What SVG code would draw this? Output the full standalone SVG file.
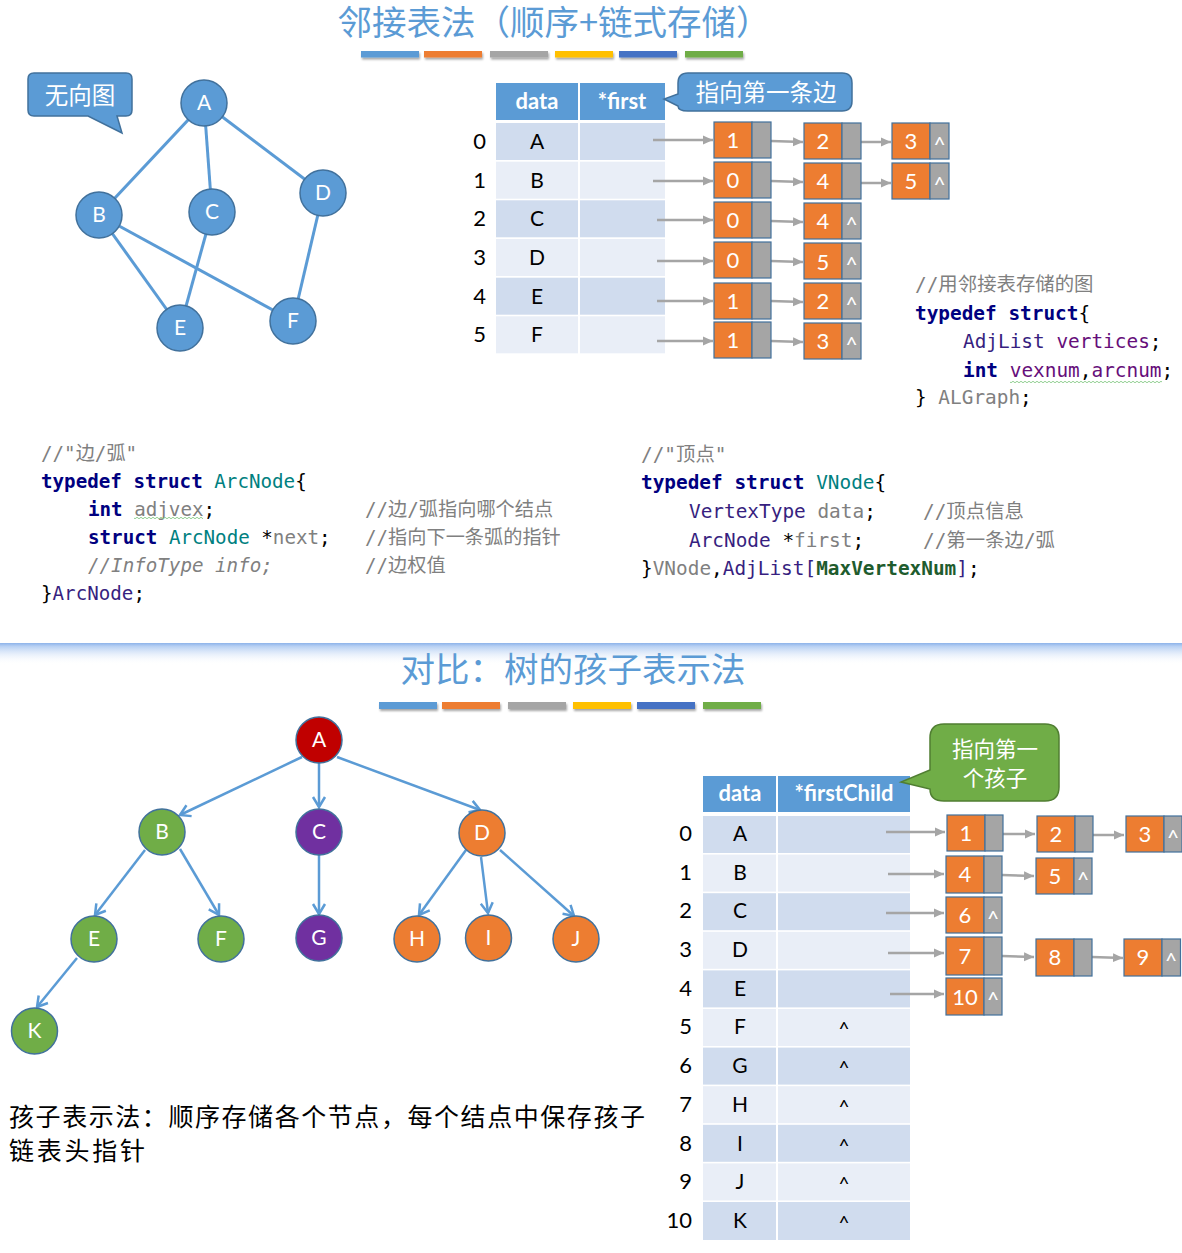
<svg xmlns="http://www.w3.org/2000/svg" width="1182" height="1253" viewBox="0 0 1182 1253">
<defs>
<style>
.title{font-family:"Noto Sans CJK SC",sans-serif;font-size:34.5px;fill:#5b9bd5;text-anchor:middle}
.gedge{stroke:#5b9bd5;stroke-width:3;fill:none}
.gnode{fill:#5b9bd5;stroke:#41719c;stroke-width:1.5}
.nlbl{font-family:Lato,"Liberation Sans",sans-serif;font-size:21px;fill:#fff;text-anchor:middle}
.call{font-family:"Noto Sans CJK SC",sans-serif;fill:#fff;text-anchor:middle}
.hdr{fill:#5b9bd5}
.hdt{font-family:Lato,"Liberation Sans",sans-serif;font-weight:bold;font-size:22px;fill:#fff;text-anchor:middle}
.rd{fill:#d0dcee}
.rl{fill:#e9eef7}
.ct{font-family:Lato,"Liberation Sans",sans-serif;font-size:21px;fill:#000;text-anchor:middle}
.idx{font-family:Lato,"Liberation Sans",sans-serif;font-size:22px;fill:#000;text-anchor:end}
.ob{fill:#ed7d31;stroke:#41719c;stroke-width:1.2}
.gb{fill:#a5a5a5;stroke:#41719c;stroke-width:1.2}
.ov{font-family:Lato,"Liberation Sans",sans-serif;font-size:22px;fill:#fff;text-anchor:middle}
.cr{font-family:Lato,"Liberation Sans",sans-serif;font-size:21px;fill:#fff;text-anchor:middle}
.gconn{stroke:#a5a5a5;stroke-width:2.5;fill:none;marker-end:url(#ga)}
.tconn{stroke:#5b9bd5;stroke-width:2.5;fill:none;marker-end:url(#ba)}
.code{font-family:"DejaVu Sans Mono","Noto Sans CJK SC",monospace;white-space:pre;fill:#000}
.cm{fill:#808080}
.kw{fill:#000080;font-weight:bold}
.tl{fill:#008080}
.ty{fill:#371f80}
.gv{fill:#808080}
.pv{fill:#660e7a}
.mx{fill:#1f5c2e;font-weight:bold}
.bar{filter:url(#sh)}
</style>
<marker id="ga" markerUnits="userSpaceOnUse" markerWidth="12" markerHeight="10" refX="10" refY="5" orient="auto"><path d="M0,0.5 L10,5 L0,9.5 z" fill="#a5a5a5"/></marker>
<marker id="ba" markerUnits="userSpaceOnUse" markerWidth="14" markerHeight="14" refX="10" refY="7" orient="auto" overflow="visible"><path d="M0,1 L10,7 L0,13" fill="none" stroke="#5b9bd5" stroke-width="2.5"/></marker>
<linearGradient id="dv" x1="0" y1="0" x2="0" y2="1"><stop offset="0" stop-color="#8db3ea"/><stop offset="0.15" stop-color="#b7d0f3"/><stop offset="1" stop-color="#ffffff" stop-opacity="0"/></linearGradient>
<filter id="sh" x="-10%" y="-50%" width="120%" height="250%"><feDropShadow dx="1" dy="2" stdDeviation="1" flood-color="#000" flood-opacity="0.35"/></filter>
<pattern id="wavy" patternUnits="userSpaceOnUse" x="0" y="0" width="4" height="4"><path d="M0,2 Q1,0.5 2,2 T4,2" fill="none" stroke="#86c986" stroke-width="0.9"/></pattern>
</defs>
<rect width="1182" height="1253" fill="#fff"/>

<!-- Titles -->
<text class="title" x="554" y="35">邻接表法（顺序+链式存储）</text>
<g id="bars-top">
<rect class="bar" x="361" y="51" width="58" height="6.5" fill="#5b9bd5"/>
<rect class="bar" x="424" y="51" width="58" height="6.5" fill="#ed7d31"/>
<rect class="bar" x="490" y="51" width="58" height="6.5" fill="#a5a5a5"/>
<rect class="bar" x="555" y="51" width="58" height="6.5" fill="#ffc000"/>
<rect class="bar" x="619" y="51" width="58" height="6.5" fill="#4472c4"/>
<rect class="bar" x="685" y="51" width="58" height="6.5" fill="#70ad47"/>
</g>

<!-- Undirected graph -->
<g id="graph-edges">
<line class="gedge" x1="204" y1="103" x2="99" y2="215"/>
<line class="gedge" x1="204" y1="103" x2="212" y2="212"/>
<line class="gedge" x1="204" y1="103" x2="323" y2="193"/>
<line class="gedge" x1="99" y1="215" x2="180" y2="328"/>
<line class="gedge" x1="99" y1="215" x2="293" y2="321"/>
<line class="gedge" x1="212" y1="212" x2="180" y2="328"/>
<line class="gedge" x1="323" y1="193" x2="293" y2="321"/>
</g>
<g id="gA"><circle class="gnode" cx="204" cy="103" r="23"/><text class="nlbl" x="204" y="110">A</text></g>
<g id="gB"><circle class="gnode" cx="99" cy="215" r="23"/><text class="nlbl" x="99" y="222">B</text></g>
<g id="gC"><circle class="gnode" cx="212" cy="212" r="23"/><text class="nlbl" x="212" y="219">C</text></g>
<g id="gD"><circle class="gnode" cx="323" cy="193" r="23"/><text class="nlbl" x="323" y="200">D</text></g>
<g id="gE"><circle class="gnode" cx="180" cy="328" r="23"/><text class="nlbl" x="180" y="335">E</text></g>
<g id="gF"><circle class="gnode" cx="293" cy="321" r="23"/><text class="nlbl" x="293" y="328">F</text></g>

<g id="callout-undirected">
<path d="M34,73 H126 Q132,73 132,79 V110 Q132,116 126,116 H117 L122,133 L88,116 H34 Q28,116 28,110 V79 Q28,73 34,73 Z" fill="#5b9bd5" stroke="#41719c" stroke-width="1.5"/>
<text class="call" x="80" y="104" font-size="23.5">无向图</text>
</g>

<!-- Top table -->
<g id="adj-table">
<rect class="hdr" x="496" y="83" width="82" height="37"/>
<rect class="hdr" x="580" y="83" width="85" height="37"/>
<text class="hdt" x="537" y="109">data</text>
<text class="hdt" x="622" y="109">*first</text>
<rect class="rd" x="496" y="123" width="82" height="37"/><rect class="rd" x="580" y="123" width="85" height="37"/>
<rect class="rl" x="496" y="161.7" width="82" height="37"/><rect class="rl" x="580" y="161.7" width="85" height="37"/>
<rect class="rd" x="496" y="200.3" width="82" height="37"/><rect class="rd" x="580" y="200.3" width="85" height="37"/>
<rect class="rl" x="496" y="239" width="82" height="37"/><rect class="rl" x="580" y="239" width="85" height="37"/>
<rect class="rd" x="496" y="277.7" width="82" height="37"/><rect class="rd" x="580" y="277.7" width="85" height="37"/>
<rect class="rl" x="496" y="316.3" width="82" height="37"/><rect class="rl" x="580" y="316.3" width="85" height="37"/>
<text class="idx" x="486" y="149">0</text><text class="ct" x="537" y="149">A</text>
<text class="idx" x="486" y="188">1</text><text class="ct" x="537" y="188">B</text>
<text class="idx" x="486" y="226">2</text><text class="ct" x="537" y="226">C</text>
<text class="idx" x="486" y="265">3</text><text class="ct" x="537" y="265">D</text>
<text class="idx" x="486" y="304">4</text><text class="ct" x="537" y="304">E</text>
<text class="idx" x="486" y="342">5</text><text class="ct" x="537" y="342">F</text>
</g>

<g id="callout-first">
<path d="M688,73 H842 Q852,73 852,83 V101 Q852,111 842,111 H688 Q678,111 678,106 L664,99 L678,94 V83 Q678,73 688,73 Z" fill="#5b9bd5" stroke="#41719c" stroke-width="1.5"/>
<text class="call" x="766" y="101" font-size="23.5">指向第一条边</text>
</g>

<!-- Bottom table -->
<g id="child-table">
<rect class="hdr" x="703" y="776" width="73" height="36"/>
<rect class="hdr" x="778" y="776" width="132" height="36"/>
<text class="hdt" x="740" y="801">data</text>
<text class="hdt" x="844" y="801">*firstChild</text>
<rect class="rd" x="703" y="816" width="73" height="37"/><rect class="rd" x="778" y="816" width="132" height="37"/>
<rect class="rl" x="703" y="854.6" width="73" height="37"/><rect class="rl" x="778" y="854.6" width="132" height="37"/>
<rect class="rd" x="703" y="893.2" width="73" height="37"/><rect class="rd" x="778" y="893.2" width="132" height="37"/>
<rect class="rl" x="703" y="931.8" width="73" height="37"/><rect class="rl" x="778" y="931.8" width="132" height="37"/>
<rect class="rd" x="703" y="970.4" width="73" height="37"/><rect class="rd" x="778" y="970.4" width="132" height="37"/>
<rect class="rl" x="703" y="1009" width="73" height="37"/><rect class="rl" x="778" y="1009" width="132" height="37"/>
<rect class="rd" x="703" y="1047.6" width="73" height="37"/><rect class="rd" x="778" y="1047.6" width="132" height="37"/>
<rect class="rl" x="703" y="1086.2" width="73" height="37"/><rect class="rl" x="778" y="1086.2" width="132" height="37"/>
<rect class="rd" x="703" y="1124.8" width="73" height="37"/><rect class="rd" x="778" y="1124.8" width="132" height="37"/>
<rect class="rl" x="703" y="1163.4" width="73" height="37"/><rect class="rl" x="778" y="1163.4" width="132" height="37"/>
<rect class="rd" x="703" y="1202" width="73" height="38"/><rect class="rd" x="778" y="1202" width="132" height="38"/>
<text class="idx" x="692" y="841">0</text><text class="ct" x="740" y="841">A</text>
<text class="idx" x="692" y="880">1</text><text class="ct" x="740" y="880">B</text>
<text class="idx" x="692" y="918">2</text><text class="ct" x="740" y="918">C</text>
<text class="idx" x="692" y="957">3</text><text class="ct" x="740" y="957">D</text>
<text class="idx" x="692" y="996">4</text><text class="ct" x="740" y="996">E</text>
<text class="idx" x="692" y="1034">5</text><text class="ct" x="740" y="1034">F</text>
<text class="idx" x="692" y="1073">6</text><text class="ct" x="740" y="1073">G</text>
<text class="idx" x="692" y="1112">7</text><text class="ct" x="740" y="1112">H</text>
<text class="idx" x="692" y="1151">8</text><text class="ct" x="740" y="1151">I</text>
<text class="idx" x="692" y="1189">9</text><text class="ct" x="740" y="1189">J</text>
<text class="idx" x="692" y="1228">10</text><text class="ct" x="740" y="1228">K</text>
<g font-family="Lato, Liberation Sans, sans-serif" font-size="19" text-anchor="middle" fill="#000">
<text x="844" y="1036">^</text><text x="844" y="1075">^</text><text x="844" y="1114">^</text><text x="844" y="1153">^</text><text x="844" y="1191">^</text><text x="844" y="1230">^</text>
</g>
</g>

<g id="callout-child">
<path d="M944,724 H1045 Q1059,724 1059,738 V787 Q1059,801 1045,801 H944 Q930,801 930,789 L901,782 L930,770 V738 Q930,724 944,724 Z" fill="#70ad47" stroke="#507e32" stroke-width="1.5"/>
<text class="call" x="995" y="757" font-size="21.5">指向第一</text>
<text class="call" x="995" y="786" font-size="21.5">个孩子</text>
</g>

<!-- Connectors -->
<g id="connectors">
<line class="gconn" x1="653" y1="140" x2="713" y2="140"/>
<line class="gconn" x1="653" y1="181" x2="713" y2="181"/>
<line class="gconn" x1="657" y1="220" x2="713" y2="220"/>
<line class="gconn" x1="657" y1="261" x2="713" y2="261"/>
<line class="gconn" x1="657" y1="301" x2="713" y2="301"/>
<line class="gconn" x1="657" y1="341" x2="713" y2="341"/>
<line class="gconn" x1="771" y1="141" x2="803" y2="142"/>
<line class="gconn" x1="771" y1="181" x2="803" y2="182"/>
<line class="gconn" x1="771" y1="221" x2="803" y2="222"/>
<line class="gconn" x1="771" y1="261" x2="803" y2="262"/>
<line class="gconn" x1="771" y1="301" x2="803" y2="302"/>
<line class="gconn" x1="771" y1="341" x2="803" y2="342"/>
<line class="gconn" x1="861" y1="142" x2="891" y2="142"/>
<line class="gconn" x1="861" y1="183" x2="891" y2="183"/>

<line class="gconn" x1="886" y1="832" x2="945" y2="832"/>
<line class="gconn" x1="888" y1="874" x2="944" y2="874"/>
<line class="gconn" x1="886" y1="913" x2="944" y2="913"/>
<line class="gconn" x1="888" y1="953" x2="944" y2="953"/>
<line class="gconn" x1="890" y1="994" x2="944" y2="994"/>
<line class="gconn" x1="1003" y1="834" x2="1035" y2="834"/>
<line class="gconn" x1="1093" y1="835" x2="1124" y2="835"/>
<line class="gconn" x1="1002" y1="875" x2="1034" y2="876"/>
<line class="gconn" x1="1002" y1="956" x2="1034" y2="957"/>
<line class="gconn" x1="1092" y1="957" x2="1123" y2="958"/>

<line class="tconn" x1="302" y1="757" x2="180" y2="815"/>
<line class="tconn" x1="319" y1="763" x2="319" y2="807"/>
<line class="tconn" x1="337" y1="757" x2="480" y2="810"/>
<line class="tconn" x1="145" y1="850" x2="95" y2="915"/>
<line class="tconn" x1="180" y1="849" x2="219" y2="915"/>
<line class="tconn" x1="319" y1="855" x2="319" y2="914"/>
<line class="tconn" x1="466" y1="850" x2="419" y2="915"/>
<line class="tconn" x1="481" y1="857" x2="488" y2="913"/>
<line class="tconn" x1="500" y1="850" x2="574" y2="916"/>
<line class="tconn" x1="77" y1="958" x2="37" y2="1007"/>
</g>

<!-- Top chain nodes -->
<g id="n0a"><rect class="ob" x="714" y="122" width="38" height="36"/><rect class="gb" x="752" y="122" width="19" height="36"/><text class="ov" x="733" y="148">1</text></g>
<g id="n0b"><rect class="ob" x="804" y="123" width="38" height="36"/><rect class="gb" x="842" y="123" width="19" height="36"/><text class="ov" x="823" y="149">2</text></g>
<g id="n0c"><rect class="ob" x="892" y="123" width="38" height="36"/><rect class="gb" x="930" y="123" width="19" height="36"/><text class="ov" x="911" y="149">3</text><text class="cr" x="939.5" y="152">^</text></g>
<g id="n1a"><rect class="ob" x="714" y="162" width="38" height="36"/><rect class="gb" x="752" y="162" width="19" height="36"/><text class="ov" x="733" y="188">0</text></g>
<g id="n1b"><rect class="ob" x="804" y="163" width="38" height="36"/><rect class="gb" x="842" y="163" width="19" height="36"/><text class="ov" x="823" y="189">4</text></g>
<g id="n1c"><rect class="ob" x="892" y="163" width="38" height="36"/><rect class="gb" x="930" y="163" width="19" height="36"/><text class="ov" x="911" y="189">5</text><text class="cr" x="939.5" y="192">^</text></g>
<g id="n2a"><rect class="ob" x="714" y="202" width="38" height="36"/><rect class="gb" x="752" y="202" width="19" height="36"/><text class="ov" x="733" y="228">0</text></g>
<g id="n2b"><rect class="ob" x="804" y="203" width="38" height="36"/><rect class="gb" x="842" y="203" width="19" height="36"/><text class="ov" x="823" y="229">4</text><text class="cr" x="851.5" y="232">^</text></g>
<g id="n3a"><rect class="ob" x="714" y="242" width="38" height="36"/><rect class="gb" x="752" y="242" width="19" height="36"/><text class="ov" x="733" y="268">0</text></g>
<g id="n3b"><rect class="ob" x="804" y="243" width="38" height="36"/><rect class="gb" x="842" y="243" width="19" height="36"/><text class="ov" x="823" y="270">5</text><text class="cr" x="851.5" y="272">^</text></g>
<g id="n4a"><rect class="ob" x="714" y="283" width="38" height="36"/><rect class="gb" x="752" y="283" width="19" height="36"/><text class="ov" x="733" y="309">1</text></g>
<g id="n4b"><rect class="ob" x="804" y="283" width="38" height="36"/><rect class="gb" x="842" y="283" width="19" height="36"/><text class="ov" x="823" y="309">2</text><text class="cr" x="851.5" y="312">^</text></g>
<g id="n5a"><rect class="ob" x="714" y="322" width="38" height="36"/><rect class="gb" x="752" y="322" width="19" height="36"/><text class="ov" x="733" y="348">1</text></g>
<g id="n5b"><rect class="ob" x="804" y="323" width="38" height="36"/><rect class="gb" x="842" y="323" width="19" height="36"/><text class="ov" x="823" y="349">3</text><text class="cr" x="851.5" y="352">^</text></g>

<!-- Code: ALGraph -->
<g id="code-algraph" font-size="19.4">
<text class="code" x="915" y="291"><tspan class="cm">//用邻接表存储的图</tspan></text>
<text class="code" x="915" y="320"><tspan class="kw">typedef struct</tspan>{</text>
<text class="code" x="963" y="348"><tspan class="ty">AdjList</tspan> <tspan class="pv">vertices</tspan>;</text>
<text class="code" x="963" y="377"><tspan class="kw">int</tspan> <tspan class="pv">vexnum</tspan>,<tspan class="pv">arcnum</tspan>;</text>
<rect x="1010" y="380" width="152" height="4" fill="url(#wavy)"/>
<text class="code" x="915" y="404">} <tspan class="gv">ALGraph</tspan>;</text>
</g>

<!-- Code: ArcNode -->
<g id="code-arcnode" font-size="19.2">
<text class="code" x="41" y="460"><tspan class="cm">//"边/弧"</tspan></text>
<text class="code" x="41" y="488"><tspan class="kw">typedef struct</tspan> <tspan class="tl">ArcNode</tspan>{</text>
<text class="code" x="88" y="516"><tspan class="kw">int</tspan> <tspan class="gv">adjvex</tspan>;</text>
<rect x="134" y="516" width="69" height="4" fill="url(#wavy)"/>
<text class="code" x="88" y="544"><tspan class="kw">struct</tspan> <tspan class="tl">ArcNode</tspan> *<tspan class="gv">next</tspan>;</text>
<text class="code cm" x="88" y="572" font-style="italic">//InfoType info;</text>
<text class="code" x="41" y="600">}<tspan class="ty">ArcNode</tspan>;</text>
<text class="code cm" x="365" y="516">//边/弧指向哪个结点</text>
<text class="code cm" x="365" y="544">//指向下一条弧的指针</text>
<text class="code cm" x="365" y="572">//边权值</text>
</g>

<!-- Code: VNode -->
<g id="code-vnode" font-size="19.4">
<text class="code" x="641" y="461"><tspan class="cm">//"顶点"</tspan></text>
<text class="code" x="641" y="489"><tspan class="kw">typedef struct</tspan> <tspan class="tl">VNode</tspan>{</text>
<text class="code" x="689" y="518"><tspan class="ty">VertexType</tspan> <tspan class="gv">data</tspan>;</text>
<text class="code" x="689" y="547"><tspan class="ty">ArcNode</tspan> *<tspan class="gv">first</tspan>;</text>
<text class="code" x="641" y="575">}<tspan class="gv">VNode</tspan>,<tspan class="ty">AdjList[</tspan><tspan class="mx">MaxVertexNum</tspan><tspan class="ty">]</tspan>;</text>
<text class="code cm" x="923" y="518">//顶点信息</text>
<text class="code cm" x="923" y="547">//第一条边/弧</text>
</g>

<!-- Divider -->
<rect x="0" y="643" width="1182" height="22" fill="url(#dv)"/>

<text class="title" x="573" y="682">对比：树的孩子表示法</text>
<g id="bars-bottom">
<rect class="bar" x="379" y="702" width="58" height="7" fill="#5b9bd5"/>
<rect class="bar" x="442" y="702" width="58" height="7" fill="#ed7d31"/>
<rect class="bar" x="508" y="702" width="58" height="7" fill="#a5a5a5"/>
<rect class="bar" x="573" y="702" width="58" height="7" fill="#ffc000"/>
<rect class="bar" x="637" y="702" width="58" height="7" fill="#4472c4"/>
<rect class="bar" x="703" y="702" width="58" height="7" fill="#70ad47"/>
</g>

<!-- Tree -->
<g id="tA"><circle cx="319" cy="740" r="23" fill="#c00000" stroke="#41719c" stroke-width="1.5"/><text class="nlbl" x="319" y="747">A</text></g>
<g id="tB"><circle cx="162" cy="832" r="23" fill="#70ad47" stroke="#41719c" stroke-width="1.5"/><text class="nlbl" x="162" y="839">B</text></g>
<g id="tC"><circle cx="319" cy="832" r="23" fill="#7030a0" stroke="#41719c" stroke-width="1.5"/><text class="nlbl" x="319" y="839">C</text></g>
<g id="tD"><circle cx="482" cy="833" r="23" fill="#ed7d31" stroke="#41719c" stroke-width="1.5"/><text class="nlbl" x="482" y="840">D</text></g>
<g id="tE"><circle cx="94" cy="939" r="23" fill="#70ad47" stroke="#41719c" stroke-width="1.5"/><text class="nlbl" x="94" y="946">E</text></g>
<g id="tF"><circle cx="221" cy="939" r="23" fill="#70ad47" stroke="#41719c" stroke-width="1.5"/><text class="nlbl" x="221" y="946">F</text></g>
<g id="tG"><circle cx="319" cy="938" r="23" fill="#7030a0" stroke="#41719c" stroke-width="1.5"/><text class="nlbl" x="319" y="945">G</text></g>
<g id="tH"><circle cx="417" cy="939" r="23" fill="#ed7d31" stroke="#41719c" stroke-width="1.5"/><text class="nlbl" x="417" y="946">H</text></g>
<g id="tI"><circle cx="488.5" cy="938" r="23" fill="#ed7d31" stroke="#41719c" stroke-width="1.5"/><text class="nlbl" x="488.5" y="945">I</text></g>
<g id="tJ"><circle cx="576" cy="939" r="23" fill="#ed7d31" stroke="#41719c" stroke-width="1.5"/><text class="nlbl" x="576" y="946">J</text></g>
<g id="tK"><circle cx="34.5" cy="1031" r="23" fill="#70ad47" stroke="#41719c" stroke-width="1.5"/><text class="nlbl" x="34.5" y="1038">K</text></g>

<text x="9" y="1126" font-family="Noto Sans CJK SC, sans-serif" font-size="25" textLength="636" lengthAdjust="spacing" fill="#000">孩子表示法：顺序存储各个节点，每个结点中保存孩子</text>
<text x="9" y="1160" font-family="Noto Sans CJK SC, sans-serif" font-size="25" textLength="136" lengthAdjust="spacing" fill="#000">链表头指针</text>

<!-- Bottom chain nodes -->
<g id="c1"><rect class="ob" x="947" y="815" width="38" height="36"/><rect class="gb" x="985" y="815" width="18" height="36"/><text class="ov" x="966" y="841">1</text></g>
<g id="c2"><rect class="ob" x="1037" y="816" width="38" height="36"/><rect class="gb" x="1075" y="816" width="18" height="36"/><text class="ov" x="1056" y="842">2</text></g>
<g id="c3"><rect class="ob" x="1126" y="816" width="38" height="36"/><rect class="gb" x="1164" y="816" width="18" height="36"/><text class="ov" x="1145" y="842">3</text><text class="cr" x="1173" y="845">^</text></g>
<g id="c4"><rect class="ob" x="946" y="856" width="38" height="37"/><rect class="gb" x="984" y="856" width="18" height="37"/><text class="ov" x="965" y="882">4</text></g>
<g id="c5"><rect class="ob" x="1036" y="858" width="38" height="36"/><rect class="gb" x="1074" y="858" width="18" height="36"/><text class="ov" x="1055" y="884">5</text><text class="cr" x="1083" y="887">^</text></g>
<g id="c6"><rect class="ob" x="946" y="897" width="38" height="36"/><rect class="gb" x="984" y="897" width="18" height="36"/><text class="ov" x="965" y="923">6</text><text class="cr" x="993" y="926">^</text></g>
<g id="c7"><rect class="ob" x="946" y="937" width="38" height="38"/><rect class="gb" x="984" y="937" width="18" height="38"/><text class="ov" x="965" y="964">7</text></g>
<g id="c8"><rect class="ob" x="1036" y="939" width="38" height="37"/><rect class="gb" x="1074" y="939" width="18" height="37"/><text class="ov" x="1055" y="965">8</text></g>
<g id="c9"><rect class="ob" x="1124" y="939" width="38" height="37"/><rect class="gb" x="1162" y="939" width="18.5" height="37"/><text class="ov" x="1143" y="965">9</text><text class="cr" x="1171" y="968">^</text></g>
<g id="c10"><rect class="ob" x="946" y="978" width="38" height="37"/><rect class="gb" x="984" y="978" width="18" height="37"/><text class="ov" x="965" y="1005" font-size="18">10</text><text class="cr" x="993" y="1007">^</text></g>
</svg>
